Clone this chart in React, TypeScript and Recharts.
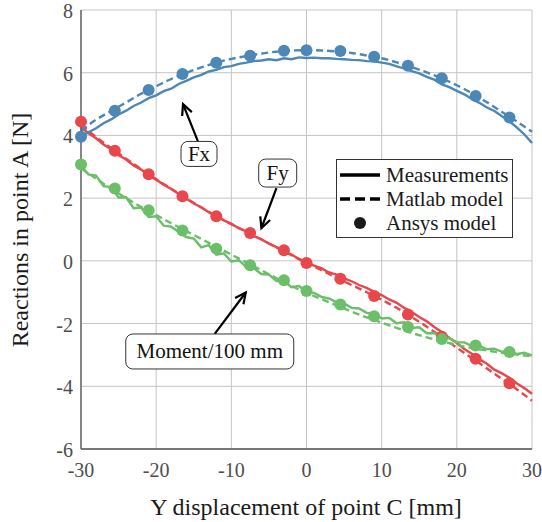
import React from "react";
import {
  ComposedChart,
  Line,
  Scatter,
  XAxis,
  YAxis,
  CartesianGrid,
  Legend,
  ReferenceDot,
  ReferenceLine,
} from "recharts";

// displacement values of the measurement runs [mm]
const measX = [
  -30, -29, -28, -27, -26, -25, -24, -23, -22, -21, -20, -19, -18, -17, -16, -15,
  -14, -13, -12, -11, -10, -9, -8, -7, -6, -5, -4, -3, -2, -1, 0, 1, 2, 3, 4, 5,
  6, 7, 8, 9, 10, 11, 12, 13, 14, 15, 16, 17, 18, 19, 20, 21, 22, 23, 24, 25, 26,
  27, 28, 29, 30,
];

const fxMeas = [
  3.95, 4.1, 4.23, 4.39, 4.51, 4.67, 4.79, 4.94, 5.05, 5.19, 5.28, 5.41, 5.49,
  5.64, 5.74, 5.85, 5.93, 6.04, 6.09, 6.18, 6.21, 6.28, 6.32, 6.37, 6.39, 6.43,
  6.4, 6.46, 6.43, 6.49, 6.47, 6.48, 6.46, 6.46, 6.44, 6.43, 6.41, 6.4, 6.37,
  6.36, 6.32, 6.28, 6.2, 6.14, 6.05, 5.98, 5.87, 5.78, 5.63, 5.54, 5.42, 5.31,
  5.16, 5.04, 4.89, 4.78, 4.61, 4.45, 4.25, 4.03, 3.76,
];

const fyMeas = [
  4.26, 4.07, 3.91, 3.71, 3.56, 3.37, 3.23, 3.04, 2.91, 2.73, 2.59, 2.43, 2.29,
  2.13, 1.99, 1.83, 1.71, 1.55, 1.44, 1.29, 1.18, 1.04, 0.94, 0.79, 0.69, 0.55,
  0.44, 0.3, 0.2, 0.06, -0.04, -0.15, -0.24, -0.37, -0.44, -0.56, -0.65, -0.77,
  -0.86, -0.99, -1.09, -1.23, -1.34, -1.5, -1.63, -1.79, -1.93, -2.11, -2.27,
  -2.46, -2.62, -2.81, -2.96, -3.14, -3.28, -3.47, -3.59, -3.73, -3.91, -4.06,
  -4.24,
];

const momMeas = [
  3.02, 2.76, 2.72, 2.38, 2.35, 2.02, 2.03, 1.68, 1.7, 1.4, 1.42, 1.12, 1.09, 0.92,
  0.76, 0.71, 0.43, 0.5, 0.2, 0.24, -0.02, 0.02, -0.2, -0.24, -0.42, -0.44, -0.64,
  -0.63, -0.84, -0.8, -0.99, -1.02, -1.15, -1.2, -1.32, -1.36, -1.5, -1.52, -1.66,
  -1.68, -1.84, -1.82, -1.99, -1.96, -2.14, -2.12, -2.31, -2.3, -2.47, -2.46, -2.6,
  -2.6, -2.72, -2.71, -2.82, -2.8, -2.9, -2.87, -2.97, -2.93, -3.02,
];

// Matlab model, every 2 mm
const modelX = [
  -30, -28, -26, -24, -22, -20, -18, -16, -14, -12, -10, -8, -6, -4, -2, 0, 2, 4,
  6, 8, 10, 12, 14, 16, 18, 20, 22, 24, 26, 28, 30,
];

const fxModel = [
  4.15, 4.5, 4.78, 5.05, 5.33, 5.57, 5.8, 6.0, 6.17, 6.32, 6.44, 6.53, 6.61, 6.67,
  6.71, 6.72, 6.71, 6.68, 6.63, 6.55, 6.46, 6.33, 6.18, 6.01, 5.82, 5.6, 5.35,
  5.06, 4.75, 4.44, 4.12,
];

const fyModel = [
  4.33, 3.95, 3.6, 3.26, 2.93, 2.6, 2.3, 2.0, 1.7, 1.43, 1.17, 0.93, 0.68, 0.43,
  0.18, -0.07, -0.3, -0.54, -0.77, -1.0, -1.24, -1.5, -1.79, -2.1, -2.43, -2.77,
  -3.1, -3.43, -3.77, -4.1, -4.46,
];

const momModel = [
  2.95, 2.62, 2.3, 2.0, 1.72, 1.46, 1.2, 0.95, 0.7, 0.45, 0.2, -0.05, -0.3, -0.55,
  -0.8, -1.02, -1.22, -1.42, -1.62, -1.8, -1.97, -2.14, -2.3, -2.44, -2.57, -2.68,
  -2.78, -2.86, -2.93, -2.99, -3.04,
];

// Ansys model points
const ansysX = [-30, -25.5, -21, -16.5, -12, -7.5, -3, 0, 4.5, 9, 13.5, 18, 22.5, 27];
const fxAnsys = [3.96, 4.79, 5.45, 5.96, 6.32, 6.54, 6.7, 6.72, 6.69, 6.51, 6.22, 5.82, 5.26, 4.57];
const fyAnsys = [4.44, 3.51, 2.76, 2.06, 1.42, 0.89, 0.34, -0.07, -0.57, -1.12, -1.71, -2.42, -3.12, -3.9];
const momAnsys = [3.07, 2.31, 1.61, 0.97, 0.39, -0.14, -0.62, -0.96, -1.39, -1.77, -2.11, -2.49, -2.7, -2.91];

const xTicks = [-30, -20, -10, 0, 10, 20, 30];
const yTicks = [-6, -4, -2, 0, 2, 4, 6, 8];

// text boxes with arrows: box centre, arrow tail, arrow tip (data units)
const annotations = [
  { text: "Fx", box: [-14.3, 3.41], tail: [-14.43, 3.8], tip: [-16.43, 5.0], w: 36, h: 25 },
  { text: "Fy", box: [-3.83, 2.8], tail: [-4.0, 2.32], tip: [-6.0, 1.04], w: 38, h: 28 },
  { text: "Moment/100 mm", box: [-12.87, -2.89], tail: [-12.21, -2.33], tip: [-8.08, -1.01], w: 168, h: 35 },
];

const BLUE = "#4c87b5";
const RED = "#e8474b";
const GREEN = "#6bbf69";
const FONT = "'Liberation Serif', 'DejaVu Serif', 'Times New Roman', serif";

const zip = (xs: number[], ys: number[]) => xs.map((x, i) => ({ x, y: ys[i] }));

const series = [
  { name: "Fy", color: RED, meas: fyMeas, model: fyModel, ansys: fyAnsys },
  { name: "Moment", color: GREEN, meas: momMeas, model: momModel, ansys: momAnsys },
  { name: "Fx", color: BLUE, meas: fxMeas, model: fxModel, ansys: fxAnsys },
];

const XTick = (props: any) => (
  <text x={props.x} y={477} textAnchor="middle" style={{ fontFamily: FONT }} fontSize={20} fill="#4d4d4d">
    {props.payload.value}
  </text>
);

const YTick = (props: any) => (
  <text x={73} y={props.y + 8} textAnchor="end" style={{ fontFamily: FONT }} fontSize={20} fill="#4d4d4d">
    {props.payload.value}
  </text>
);

const Arrow = (props: any) => {
  const { x1, y1, x2, y2 } = props;
  const ang = Math.atan2(y2 - y1, x2 - x1);
  const len = 12;
  const spread = 0.45;
  const ax = x2 - len * Math.cos(ang - spread);
  const ay = y2 - len * Math.sin(ang - spread);
  const bx = x2 - len * Math.cos(ang + spread);
  const by = y2 - len * Math.sin(ang + spread);
  return (
    <g stroke="#000" strokeWidth={2.2} fill="none">
      <line x1={x1} y1={y1} x2={x2} y2={y2} />
      <polyline points={`${ax},${ay} ${x2},${y2} ${bx},${by}`} />
    </g>
  );
};

const boxShape = (a: (typeof annotations)[number]) => (props: any) => {
  const { cx, cy } = props;
  return (
    <g>
      <rect
        x={cx - a.w / 2}
        y={cy - a.h / 2}
        width={a.w}
        height={a.h}
        rx={7}
        fill="#fff"
        stroke="#333"
        strokeWidth={1}
      />
      <text x={cx} y={cy + 7} textAnchor="middle" style={{ fontFamily: FONT }} fontSize={21} fill="#111">
        {a.text}
      </text>
    </g>
  );
};

const LegendBox = () => (
  <div
    style={{
      width: 177,
      border: "1px solid #333",
      background: "#fff",
      fontFamily: FONT,
      fontSize: 21,
      color: "#1a1a1a",
      padding: "3px 0 2px 3px",
      boxSizing: "border-box",
    }}
  >
    {[
      { label: "Measurements", kind: "solid" },
      { label: "Matlab model", kind: "dash" },
      { label: "Ansys model", kind: "dot" },
    ].map((r) => (
      <div key={r.label} style={{ display: "flex", alignItems: "center", height: 24, whiteSpace: "nowrap" }}>
        <svg width={40} height={14} style={{ marginRight: 6 }}>
          {r.kind === "dot" ? (
            <circle cx={20} cy={7} r={6} fill="#1a1a1a" />
          ) : (
            <line
              x1={0}
              y1={7}
              x2={40}
              y2={7}
              stroke="#000"
              strokeWidth={3.5}
              strokeDasharray={r.kind === "dash" ? "10 5" : undefined}
            />
          )}
        </svg>
        <span style={{ lineHeight: "24px" }}>{r.label}</span>
      </div>
    ))}
  </div>
);

export default function App() {
  return (
    <div style={{ position: "absolute", left: 0, top: 0, width: 542, height: 522, background: "#fff", fontFamily: FONT }}>
      <ComposedChart width={542} height={522} margin={{ top: 10, right: 10, bottom: 0, left: 0 }}>
        <CartesianGrid stroke="#c4c4c4" strokeWidth={1} />
        <XAxis
          type="number"
          dataKey="x"
          domain={[-30, 30]}
          ticks={xTicks}
          tick={<XTick />}
          tickLine={false}
          axisLine={{ stroke: "#555", strokeWidth: 1.3 }}
          height={73}
          allowDuplicatedCategory={false}
          label={() => (
            <text x={306} y={515} textAnchor="middle" style={{ fontFamily: FONT }} fontSize={24} fill="#1a1a1a">
              Y displacement of point C [mm]
            </text>
          )}
        />
        <YAxis
          type="number"
          domain={[-6, 8]}
          ticks={yTicks}
          tick={<YTick />}
          tickLine={false}
          axisLine={{ stroke: "#555", strokeWidth: 1.3 }}
          width={81}
          label={() => (
            <text
              x={28}
              y={230}
              transform="rotate(-90 28 230)"
              textAnchor="middle"
              style={{ fontFamily: FONT }}
              fontSize={24}
              fill="#1a1a1a"
            >
              Reactions in point A [N]
            </text>
          )}
        />
        {series.flatMap((s) => [
          <Line
            key={s.name + "-meas"}
            data={zip(measX, s.meas)}
            dataKey="y"
            type="linear"
            stroke={s.color}
            strokeWidth={2.4}
            dot={false}
            isAnimationActive={false}
          />,
          <Line
            key={s.name + "-model"}
            data={zip(modelX, s.model)}
            dataKey="y"
            type="monotone"
            stroke={s.color}
            strokeWidth={2.4}
            strokeDasharray="7 4"
            dot={false}
            isAnimationActive={false}
          />,
          <Scatter
            key={s.name + "-ansys"}
            data={zip(ansysX, s.ansys)}
            dataKey="y"
            fill={s.color}
            shape={(p: any) => <circle cx={p.cx} cy={p.cy} r={6} fill={s.color} />}
            isAnimationActive={false}
          />,
        ])}
        {annotations.map((a) => (
          <ReferenceLine
            key={a.text + "-arrow"}
            segment={[
              { x: a.tail[0], y: a.tail[1] },
              { x: a.tip[0], y: a.tip[1] },
            ]}
            shape={Arrow}
          />
        ))}
        {annotations.map((a) => (
          <ReferenceDot key={a.text + "-box"} x={a.box[0]} y={a.box[1]} r={0} shape={boxShape(a)} />
        ))}
        <Legend
          layout="horizontal"
          verticalAlign="middle"
          align="center"
          content={<LegendBox />}
          wrapperStyle={{ left: 336, top: 159, width: 177 }}
        />
      </ComposedChart>
    </div>
  );
}
